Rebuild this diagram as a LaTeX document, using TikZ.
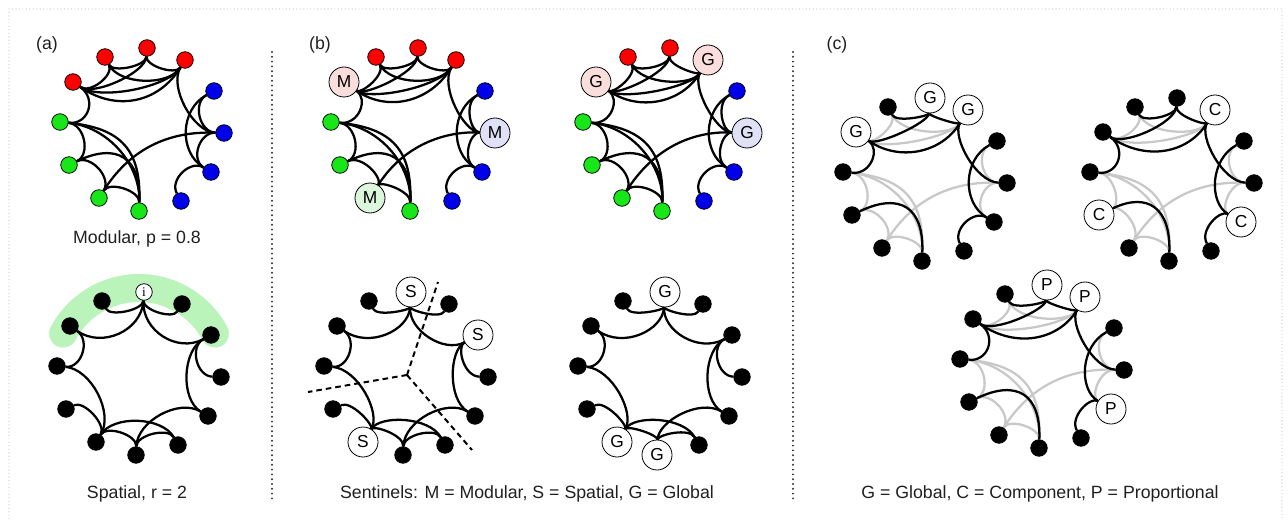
\documentclass[tikz,border=0pt]{standalone}
\usepackage{fontspec}
\setmainfont{Liberation Sans}
\newfontfamily\serifletter{Liberation Serif}
\usetikzlibrary{calc,backgrounds}

\definecolor{nodered}{RGB}{255,0,0}
\definecolor{nodeblue}{RGB}{0,0,235}
\definecolor{nodegreen}{RGB}{25,230,25}
\definecolor{sentred}{RGB}{250,222,220}
\definecolor{sentblue}{RGB}{224,224,246}
\definecolor{sentgreen}{RGB}{220,246,220}
\definecolor{halo}{RGB}{186,244,186}
\definecolor{faint}{RGB}{200,200,200}
\definecolor{framegray}{RGB}{195,195,195}

\tikzset{
  vdot/.style={circle, draw=black, line width=0.6pt, inner sep=0pt, minimum size=12.4pt},
  rd/.style={vdot, fill=nodered},
  bl/.style={vdot, fill=nodeblue},
  gr/.style={vdot, fill=nodegreen},
  bk/.style={vdot, fill=black},
  sent/.style={circle, draw=black, line width=0.6pt, inner sep=0pt, minimum size=22.5pt,
    fill=white, font=\fontsize{13}{14}\selectfont},
  sw/.style={sent},
  sr/.style={sent, fill=sentred},
  sb/.style={sent, fill=sentblue},
  sg/.style={sent, fill=sentgreen},
  inode/.style={circle, draw=black, line width=0.6pt, inner sep=0pt, minimum size=12.4pt,
    fill=white, font=\serifletter\fontsize{10}{10}\selectfont},
  lnk/.style={line width=1.7pt, black},
  faded/.style={line width=1.7pt, faint},
  captext/.style={font=\fontsize{13.3}{15}\selectfont, text=black!88},
  panel/.style={font=\fontsize{13.3}{15}\selectfont, text=black!88},
  sepline/.style={line width=1.6pt, line cap=round, dash pattern=on 0pt off 3.6pt, black!80},
  framedots/.style={line width=0.9pt, line cap=round, dash pattern=on 0pt off 2.6pt, framegray},
  cutline/.style={line width=1.5pt, dash pattern=on 4.2pt off 3pt, black},
}

% ring layout of the twelve vertices (pixel units, y downwards), first vertex on top
\def\ringx{{147,185,214,224,211,181,139,99,69,60,73,105}}
\def\ringy{{48,60,91,133,172,201,211,198,165,122,82,57}}

% #1 graph name, #2/#3 offset, #4 list of style/text pairs
\newcommand\ringnodes[4]{%
  \coordinate (#1-c) at (142+#2,130+#3);
  \foreach \st/\tx [count=\k] in {#4} {
    \pgfmathsetmacro\px{\ringx[\k-1]+#2}
    \pgfmathsetmacro\py{\ringy[\k-1]+#3}
    \node[\st] (#1-\k) at (\px,\py) {\tx};
  }}

% edge bent towards the ring centre
\newcommand\ringlink[5][]{%
  \draw[lnk,#1] (#2-#3) .. controls ($(#2-#3.center)!#5!(#2-c)$)
    and ($(#2-#4.center)!#5!(#2-c)$) .. (#2-#4);}

% modular network: #2 style of the kept edges, #3 style of the remaining edges
\newcommand\modularedges[3]{%
  \ringlink[#3]{#1}{11}{12}{0.25}
  \ringlink[#3]{#1}{12}{2}{0.38}
  \ringlink[#3]{#1}{11}{2}{0.39}
  \ringlink[#3]{#1}{10}{9}{0.3}
  \ringlink[#3]{#1}{10}{7}{0.75}
  \ringlink[#3]{#1}{10}{7}{0.58}
  \ringlink[#3]{#1}{9}{8}{0.3}
  \ringlink[#3]{#1}{8}{7}{0.25}
  \ringlink[#3]{#1}{8}{4}{0.7}
  \ringlink[#3]{#1}{3}{4}{0.3}
  \ringlink[#3]{#1}{4}{5}{0.3}
  \ringlink[#2]{#1}{11}{1}{0.3}
  \ringlink[#2]{#1}{11}{2}{0.62}
  \ringlink[#2]{#1}{12}{1}{0.22}
  \ringlink[#2]{#1}{1}{2}{0.22}
  \ringlink[#2]{#1}{11}{10}{0.35}
  \ringlink[#2]{#1}{2}{4}{0.38}
  \ringlink[#2]{#1}{3}{5}{0.47}
  \ringlink[#2]{#1}{5}{6}{0.3}
  \ringlink[#2]{#1}{9}{7}{0.66}}

% spatial network, radius 2
\newcommand\spatialedges[1]{%
  \ringlink{#1}{1}{12}{0.22}
  \ringlink{#1}{1}{2}{0.22}
  \ringlink{#1}{1}{11}{0.47}
  \ringlink{#1}{1}{3}{0.47}
  \ringlink{#1}{11}{10}{0.3}
  \ringlink{#1}{10}{8}{0.42}
  \ringlink{#1}{9}{8}{0.25}
  \ringlink{#1}{8}{7}{0.25}
  \ringlink{#1}{8}{6}{0.4}
  \ringlink{#1}{7}{6}{0.25}
  \ringlink{#1}{7}{5}{0.42}
  \ringlink{#1}{3}{4}{0.3}
  \ringlink{#1}{3}{5}{0.4}}

\begin{document}
\begin{tikzpicture}[x=0.75pt,y=-0.75pt]
\useasboundingbox (0,0) rectangle (1288,520);
\draw[framedots] (9,9) rectangle (1282,530);

% panel separators
\coordinate (s1t) at (272,52); \coordinate (s1b) at (272,503);
\coordinate (s2t) at (793,52); \coordinate (s2b) at (793,503);
\draw[sepline] (s1t) -- (s1b);
\draw[sepline] (s2t) -- (s2b);

% panel letters and captions
\node[panel] (la) at (47,45) {(a)};
\node[panel] (lb) at (320,45) {(b)};
\node[panel] (lc) at (837,45) {(c)};
\node[captext] (capa1) at (137,239) {Modular, p = 0.8};
\node[captext] (capa2) at (137,494) {Spatial, r = 2};
\node[captext] (capb) at (527,494) {Sentinels: M = Modular, S = Spatial, G = Global};
\node[captext] (capc) at (1040,494) {G = Global, C = Component, P = Proportional};

% (a) modular network and spatial network
\ringnodes{A}{0}{0}{rd/,rd/,bl/,bl/,bl/,bl/,gr/,gr/,gr/,gr/,rd/,rd/}
\ringnodes{B}{-3}{244}{inode/i,bk/,bk/,bk/,bk/,bk/,bk/,bk/,bk/,bk/,bk/,bk/}

% (b) sentinel placements
\ringnodes{C}{271}{0}{rd/,rd/,bl/,sb/M,bl/,bl/,gr/,sg/M,gr/,gr/,sr/M,rd/}
\ringnodes{D}{523}{0}{rd/,sr/G,bl/,sb/G,bl/,bl/,gr/,gr/,gr/,gr/,sr/G,rd/}
\ringnodes{E}{264}{244}{sw/S,bk/,sw/S,bk/,bk/,bk/,bk/,sw/S,bk/,bk/,bk/,bk/}
\ringnodes{F}{518}{244}{sw/G,bk/,bk/,bk/,bk/,bk/,sw/G,sw/G,bk/,bk/,bk/,bk/}

% (c) sentinel strategies
\ringnodes{G}{783}{50}{sw/G,sw/G,bk/,bk/,bk/,bk/,bk/,bk/,bk/,bk/,sw/G,bk/}
\ringnodes{H}{1030}{50}{bk/,sw/C,bk/,bk/,sw/C,bk/,bk/,bk/,sw/C,bk/,bk/,bk/}
\ringnodes{I}{900}{237}{sw/P,sw/P,bk/,bk/,sw/P,bk/,bk/,bk/,bk/,bk/,bk/,bk/}

% spatial partition lines
\coordinate (cutc) at (407,375);
\coordinate (cut1) at (438,282);
\coordinate (cut2) at (308,392);
\coordinate (cut3) at (472,450);

\begin{pgfonlayer}{background}
  % neighbourhood of radius 2 around vertex i
  \draw[halo, line width=21pt, line cap=round]
    ($(B-c)+(208:86)$) arc[start angle=208, end angle=332, radius=86];
  \modularedges{A}{}{}
  \spatialedges{B}
  \modularedges{C}{}{}
  \modularedges{D}{}{}
  \spatialedges{E}
  \spatialedges{F}
  \modularedges{G}{}{faded}
  \modularedges{H}{}{faded}
  \modularedges{I}{}{faded}
\end{pgfonlayer}

\draw[cutline] (cutc) -- (cut1);
\draw[cutline] (cutc) -- (cut2);
\draw[cutline] (cutc) -- (cut3);
\end{tikzpicture}
\end{document}
